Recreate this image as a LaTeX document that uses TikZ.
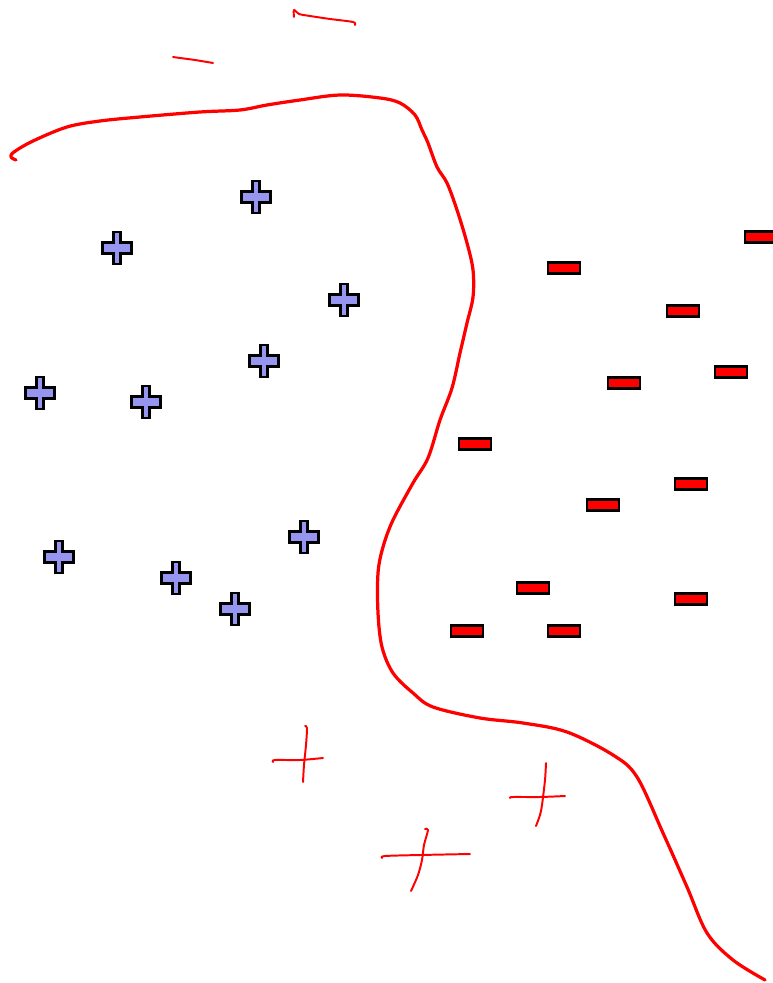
\documentclass[tikz,border=0pt]{standalone}
\usepackage{tikz}

\definecolor{plusblue}{RGB}{150,150,240}
\definecolor{riverred}{RGB}{255,0,0}

\tikzset{
  river/.style={draw=riverred, line width=2.3pt, line cap=round, line join=round},
  scribble/.style={draw=riverred, line width=1.4pt, line cap=round, line join=round},
  plussign/.pic={
    \draw[line width=2.1pt, fill=plusblue]
      (-3.5,-16) -- (3.5,-16) -- (3.5,-5.5) -- (14.5,-5.5) -- (14.5,5.5) -- (3.5,5.5)
      -- (3.5,16) -- (-3.5,16) -- (-3.5,5.5) -- (-14.5,5.5) -- (-14.5,-5.5) -- (-3.5,-5.5) -- cycle;
  },
  minussign/.pic={
    \draw[line width=2pt, fill=riverred] (-16,-5.5) rectangle (16,5.5);
  }
}

\begin{document}
\begin{tikzpicture}[x=0.025cm, y=-0.025cm]
  \useasboundingbox (0,0) rectangle (772,983);

  % Grenzlinie
  \draw[river] plot[smooth, tension=0.55] coordinates {
    (16,160) (11,157) (14,152) (33,141) (67,127) (100,121) (140,117)
    (200,112) (240,110) (267,105) (300,100) (340,95) (380,98) (400,103)
    (415,115) (422,130) (428,143) (437,167) (447,183) (457,210) (467,243)
    (473,270) (473,297) (467,323) (460,353) (452,388) (440,420) (428,458)
    (413,483) (393,520) (383,547) (378,573) (378,613) (382,647) (393,673)
    (413,693) (433,707) (480,718) (523,723) (567,732) (613,755) (637,777)
    (663,833) (687,887) (707,933) (733,960) (765,980)};

  % kurze Striche oben
  \draw[scribble] plot[smooth] coordinates {(294,17) (294,10) (299,14) (310,16) (330,19) (353,22) (355,25)};
  \draw[scribble] plot[smooth] coordinates {(173,57) (180,58) (195,60) (213,63)};

  % Handkreuze unten
  \draw[scribble] plot[smooth] coordinates {(273,762) (275,760) (300,760) (323,758)};
  \draw[scribble] plot[smooth] coordinates {(305,726) (307,728) (306,745) (304,765) (303,782)};
  \draw[scribble] plot[smooth] coordinates {(510,798) (513,797) (540,797) (565,796)};
  \draw[scribble] plot[smooth] coordinates {(546,763) (545,780) (542,805) (540,815) (536,826)};
  \draw[scribble] plot[smooth] coordinates {(382,858) (385,856) (420,855) (470,854)};
  \draw[scribble] plot[smooth] coordinates {(425,829) (428,830) (424,845) (422,860) (418,875) (411,891)};

  % positive Beispiele
  \foreach \x/\y in {256/197, 117/248, 344/300, 264/361, 40/393,
                     146/402, 304/537, 59/557, 176/578, 235/609}
    \pic at (\x,\y) {plussign};

  % negative Beispiele
  \foreach \x/\y in {564/268, 761/237, 683/311, 624/383, 731/372, 475/444,
                     691/484, 603/505, 533/588, 691/599, 467/631, 564/631}
    \pic at (\x,\y) {minussign};
\end{tikzpicture}
\end{document}
